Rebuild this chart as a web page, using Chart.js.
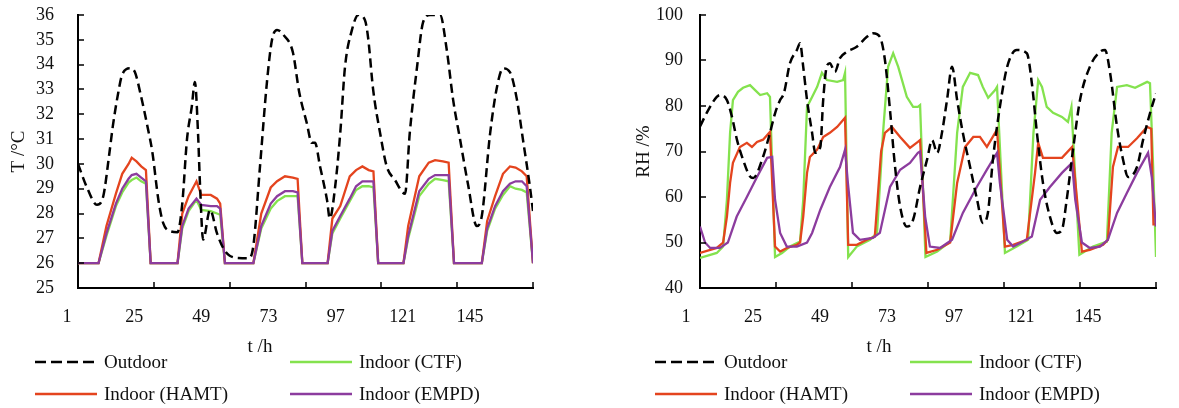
<!DOCTYPE html>
<html>
<head>
<meta charset="utf-8">
<script src="https://cdn.jsdelivr.net/npm/chart.js@4.4.1/dist/chart.umd.min.js"></script>
<style>
  body { margin: 0; background: #fff; }
  #wrap { position: relative; width: 1179px; height: 408px; font-family: 'Liberation Serif', 'Times New Roman', serif; color: #111; }
  canvas { position: absolute; top: 0; }
  .lab { position: absolute; font-size: 19px; white-space: nowrap; line-height: 20px; }
</style>
</head>
<body>
<div id="wrap">
  <canvas id="tChart" width="590" height="340" style="left:0"></canvas>
  <canvas id="rhChart" width="589" height="340" style="left:590px"></canvas>
</div>
<script>
// hour ticks shared by both panels
const xTicks = [1, 25, 49, 73, 97, 121, 145];

// --- temperature panel ---
const tOutHours = [1, 4, 7, 9, 11, 12, 13.5, 15, 17.5, 19, 21, 23, 24.5, 26.5, 28, 30, 32.5, 34, 35.5, 37, 38, 39, 39.6, 40.6, 42.8, 45, 47, 49, 53, 55, 56.5, 58.6, 60.8, 62.4, 64, 66, 69, 71, 73.4, 75, 76, 77.6, 79.8, 80.7, 82.4, 84, 85.5, 87.7, 89.7, 91.8, 92.8, 94.4, 96.6, 98.7, 101.3, 104.5, 106, 108.3, 110.2, 112.4, 115.6, 117.7, 119.7, 121.9, 124.4, 127.2, 128.8, 131.4, 133.6, 135.5, 137.7, 139.9, 141.8, 144, 145];
const tOutdoor = [30.0, 29.0, 28.35, 28.7, 30.5, 31.5, 32.7, 33.6, 33.85, 33.7, 32.7, 31.5, 30.5, 28.5, 27.6, 27.3, 27.25, 28.4, 31.0, 32.3, 33.3, 31.2, 29.2, 26.95, 28.15, 27.2, 26.6, 26.3, 26.2, 26.2, 26.7, 29.9, 33.3, 35.0, 35.4, 35.2, 34.5, 32.9, 31.65, 30.85, 30.85, 29.9, 28.55, 27.8, 29.1, 31.25, 33.9, 35.4, 36.0, 35.8, 35.1, 33.0, 31.25, 29.9, 29.35, 28.8, 31.25, 33.9, 35.7, 36.0, 36.0, 34.6, 32.6, 31.0, 29.2, 27.5, 27.9, 31.2, 33.1, 33.85, 33.7, 32.6, 31.0, 29.1, 28.1];

const tInHours = [1, 7.5, 10, 13, 15, 17, 18, 19.5, 21, 22.5, 24, 32.5, 34, 36, 38.5, 40, 43, 45, 46, 47.5, 56.5, 59, 62, 64, 66.5, 69, 70.5, 72, 80, 81.5, 84, 87, 89, 91, 93, 94.5, 96, 104, 105.5, 109, 112, 114, 116.5, 118.3, 120, 128.8, 130.5, 133, 135.5, 137.7, 139.5, 141.5, 143, 145];
const tHAMT = [26, 26, 27.5, 28.8, 29.6, 30.0, 30.25, 30.1, 29.9, 29.75,
  26, 26, 28.0, 28.7, 29.3, 28.75, 28.75, 28.6, 28.4, 26,
  26, 28.0, 29.05, 29.3, 29.5, 29.45, 29.4, 26, 26, 27.8,
  28.3, 29.5, 29.75, 29.9, 29.75, 29.7, 26, 26, 27.5, 29.5,
  30.05, 30.15, 30.1, 30.05, 26, 26, 27.7, 28.7, 29.6, 29.9,
  29.85, 29.7, 29.5, 26];
const tEMPD = [26, 26, 27.2, 28.4, 29.0, 29.4, 29.55, 29.6, 29.45, 29.3,
  26, 26, 27.5, 28.2, 28.6, 28.35, 28.3, 28.3, 28.2, 26,
  26, 27.5, 28.4, 28.7, 28.9, 28.9, 28.85, 26, 26, 27.3,
  27.9, 28.6, 29.1, 29.3, 29.3, 29.3, 26, 26, 27.1, 28.9,
  29.4, 29.55, 29.55, 29.55, 26, 26, 27.4, 28.3, 28.9, 29.2,
  29.3, 29.3, 29.1, 26];
const tCTF = [26, 26, 27.1, 28.3, 28.85, 29.25, 29.35, 29.45, 29.3, 29.2,
  26, 26, 27.4, 28.1, 28.55, 28.15, 28.1, 28.0, 27.95, 26,
  26, 27.4, 28.2, 28.5, 28.7, 28.7, 28.7, 26, 26, 27.2,
  27.8, 28.5, 28.95, 29.1, 29.1, 29.05, 26, 26, 27.0, 28.7,
  29.2, 29.4, 29.35, 29.3, 26, 26, 27.3, 28.2, 28.75, 29.1,
  29.0, 28.95, 28.85, 26];

// --- relative humidity panel ---
const rhOutHours = [1, 3.6, 6.3, 7.3, 9.5, 11.1, 12.7, 14.6, 16.8, 17.8, 20.9, 23.1, 24.7, 26.3, 27.5, 29.4, 31.6, 32.6, 33.6, 34.8, 36.4, 37.4, 39, 39.9, 41, 42, 43.6, 45.2, 47.4, 50.5, 53.7, 55.6, 57.8, 59.4, 61, 62.6, 64.2, 66.3, 68.3, 70.5, 72.7, 74.3, 75.9, 77.4, 79, 80.6, 82.2, 84, 86.3, 88.5, 90.3, 91.9, 93.5, 95.7, 98, 101, 104.2, 105.8, 107.4, 109.3, 111.5, 113.7, 115.3, 116.8, 118.8, 121, 124.1, 127.3, 128.9, 130.5, 132.7, 134.6, 136.2, 139, 140.9, 143.1, 145];
const rhOutdoor = [75.5, 79.1, 82, 82.4, 81.3, 77.6, 72.5, 68.2, 64.5, 64.2, 68.8, 74.1, 78.4, 81.3, 82.8, 89.4, 92.3, 93.8, 88.6, 81.3, 74.1, 69.7, 71, 81.3, 88.6, 89.4, 87.5, 90.5, 91.9, 93.0, 95.2, 96, 95.2, 90.1, 79.1, 66.6, 57.9, 53.5, 55, 62.2, 68.2, 72.5, 69.7, 74.1, 81.3, 88.6, 81.3, 74.1, 66.6, 59.4, 54.3, 56.5, 68.2, 79.8, 88.6, 92.3, 91.6, 85, 74.1, 63.1, 55.7, 52.1, 52.8, 59.4, 70.4, 81.3, 88.6, 91.9, 92.3, 87.3, 75.4, 68.2, 64.4, 66.6, 72.5, 78.4, 82.8];

const rhCTFHours = [1, 6.3, 8.3, 9.5, 10.5, 11.4, 13, 14.6, 16.8, 18.4, 20, 22.2, 23.1, 24.7, 26.9, 29.4, 32.6, 33.6, 34.8, 36.4, 38, 39.5, 41.1, 44.3, 46.2, 46.8, 47.8, 50.5, 54.7, 56.9, 58.8, 60.4, 62, 63.6, 66.3, 68.3, 69.8, 70.5, 72.2, 75.9, 80, 82.2, 84, 86.3, 88.8, 90.3, 92, 94.2, 94.8, 97.3, 101, 104.6, 106.3, 107.8, 109, 110.5, 112.5, 115.3, 117.2, 118.3, 120.8, 125.1, 129.5, 131, 132.7, 135.8, 138.4, 142.2, 143.1, 144.1, 145];
const rhCTF = [46.6, 47.7, 49.1, 59.4, 74.1, 81.3, 83.1, 84, 84.6, 83.5, 82.4, 82.8, 82, 46.8, 47.7, 49.1, 50.2, 59.4, 79.8, 82, 84.2, 87.3, 85.7, 85.3, 85.7, 87.3, 46.8, 49.1, 50.6, 52.1, 74.1, 88.6, 91.6, 88.6, 82, 79.8, 79.8, 80.2, 46.8, 48, 50.2, 74.1, 84.2, 87.3, 86.8, 84.2, 81.8, 83.5, 84.2, 47.7, 49.1, 50.6, 74.1, 85.7, 84.2, 79.8, 78.5, 77.6, 76.5, 79.8, 47.3, 49.1, 50.2, 74.1, 84.2, 84.6, 84, 85.3, 85, 66.6, 46.8];

const rhHAMTHours = [1, 6.3, 8.3, 9.5, 10.5, 11.4, 13.6, 15.8, 17.4, 19, 20.9, 23.1, 24.7, 26.3, 28.4, 31.6, 32.6, 33.6, 34.8, 35.7, 38, 39.9, 42, 44.3, 46.8, 47.8, 50.5, 53.7, 56.2, 58.2, 59.4, 61.6, 64.2, 67.3, 69.8, 70.5, 72.5, 75.9, 80, 82.2, 84.7, 87.3, 89.4, 91.6, 94.8, 97.3, 99.9, 104.2, 106.8, 107.8, 109.3, 115.3, 118.5, 121.6, 124.1, 128.3, 129.8, 131.4, 133, 136.2, 139, 142.2, 143.5, 144.2, 145];
const rhHAMT = [47.7, 48.8, 50, 55.7, 63.1, 67.5, 71, 71.9, 71, 72.1, 72.6, 74.3, 49.1, 48, 48.8, 49.5, 50, 55.7, 65.3, 68.8, 70.4, 73.2, 74.1, 75.4, 77.4, 49.5, 49.5, 50.6, 51.3, 70, 74.1, 75.4, 73.2, 70.8, 72.1, 72.5, 47.7, 48.4, 50, 63.1, 71, 73.2, 73.2, 71, 74.8, 49.1, 49.5, 50.6, 65.3, 71.9, 68.6, 68.6, 71, 48, 48.4, 49.5, 50.6, 66.6, 71, 71, 72.9, 75.4, 75, 54, 54];

const rhEMPDHours = [1, 2.6, 4.2, 7.3, 9.8, 12.6, 15.8, 19, 22.2, 23.8, 24.7, 26.3, 28.4, 31.6, 34.8, 36.4, 39, 42, 45.2, 46.8, 47.7, 49.3, 51.5, 55.6, 57.8, 61, 64.2, 67.3, 69.8, 70.5, 72.1, 73.6, 76.8, 80.6, 84, 88.4, 91.6, 94.8, 95.7, 98, 99.9, 103, 105.8, 108.4, 111.5, 115.3, 118.5, 119.5, 121.6, 124.1, 127.3, 129.8, 132.7, 135.8, 139, 142.5, 143.7, 145];
const rhEMPD = [53.5, 50, 48.8, 48.8, 50, 55.7, 60, 64.4, 68.6, 68.8, 59.4, 52.1, 49.1, 49.1, 50, 52.1, 57.2, 62.2, 66.6, 70.4, 63.1, 52.1, 50.6, 51, 52.1, 62.2, 66, 67.5, 69.7, 70, 55.7, 49.1, 48.8, 50.6, 56.5, 62.2, 66, 69.7, 63.1, 50.6, 49.1, 50.2, 51.3, 59.4, 62.2, 65.3, 67.5, 59.4, 50, 48.8, 49.1, 50.6, 56.5, 60.9, 65.3, 69.7, 64.2, 53.5];

const seriesNames = ['Outdoor', 'Indoor (CTF)', 'Indoor (HAMT)', 'Indoor (EMPD)'];
const seriesColors = ['#000000', '#84e24e', '#e4441e', '#8c3c9e'];

const FONT = "'Liberation Serif', 'Times New Roman', serif";

function pairs(hours, vals) {
  return hours.map((h, i) => ({ x: h, y: vals[i] }));
}

function datasets(out, ctf, hamt, empd) {
  return [
    { label: seriesNames[0], data: out, borderColor: seriesColors[0], borderWidth: 2.5,
      borderDash: [9, 5], cubicInterpolationMode: 'monotone', order: 0 },
    { label: seriesNames[1], data: ctf, borderColor: seriesColors[1], borderWidth: 2.3, order: 3 },
    { label: seriesNames[2], data: hamt, borderColor: seriesColors[2], borderWidth: 2.3, order: 2 },
    { label: seriesNames[3], data: empd, borderColor: seriesColors[3], borderWidth: 2.3, order: 1 }
  ].map(d => Object.assign({ pointRadius: 0, fill: false, tension: 0 }, d));
}

// small inward tick marks like the original axes
const innerTicks = {
  id: 'innerTicks',
  afterDraw(chart) {
    const { ctx, chartArea: a, scales: { x, y } } = chart;
    ctx.save();
    ctx.strokeStyle = '#000';
    ctx.lineWidth = 1.5;
    ctx.beginPath();
    xTicks.forEach(v => {
      const px = Math.round(x.getPixelForValue(v));
      ctx.moveTo(px, a.bottom);
      ctx.lineTo(px, a.bottom - 6);
    });
    y.ticks.forEach(t => {
      const py = Math.round(y.getPixelForValue(t.value));
      ctx.moveTo(a.left, py);
      ctx.lineTo(a.left + 6, py);
    });
    ctx.stroke();
    ctx.restore();
  }
};

function makeChart(id, ds, p) {
  return new Chart(document.getElementById(id), {
    type: 'line',
    data: { datasets: ds },
    options: {
      responsive: false,
      animation: false,
      events: [],
      layout: { padding: { top: 15, right: p.padRight, bottom: 0, left: 0 } },
      plugins: { legend: { display: false }, tooltip: { enabled: false } },
      scales: {
        x: { type: 'linear', min: 1, max: 145, display: false },
        // tick labels of the original sit slightly off the tick marks
        xl: {
          type: 'linear', axis: 'x', position: 'bottom',
          min: p.labelMin, max: p.labelMax,
          grid: { display: false, drawTicks: false },
          border: { color: '#000', width: 2 },
          ticks: { autoSkip: false, maxRotation: 0, padding: 18, color: '#111',
                   font: { family: FONT, size: 18 } },
          afterBuildTicks: s => { s.ticks = xTicks.map(v => ({ value: v })); },
          afterFit: s => { s.height = 52; }
        },
        y: {
          min: p.yMin, max: p.yMax,
          grid: { display: false, drawTicks: false },
          border: { color: '#000', width: 2 },
          ticks: { stepSize: p.yStep, autoSkip: false, padding: p.tickPad, color: '#111',
                   font: { family: FONT, size: 18 } },
          title: { display: true, text: p.yTitle, color: '#111',
                   font: { family: FONT, size: 19 }, padding: { top: p.titlePad, bottom: 0 } },
          afterFit: s => { s.width = p.yWidth; s.paddingTop = 8; s.paddingBottom = 8; }
        }
      }
    },
    plugins: [innerTicks]
  });
}

makeChart('tChart',
  datasets(pairs(tOutHours, tOutdoor), pairs(tInHours, tCTF), pairs(tInHours, tHAMT), pairs(tInHours, tEMPD)),
  { yMin: 25, yMax: 36, yStep: 1, yTitle: 'T /\u00b0C', yWidth: 78, titlePad: 8, tickPad: 24,
    padRight: 57, labelMin: 4.93, labelMax: 167.5 });

makeChart('rhChart',
  datasets(pairs(rhOutHours, rhOutdoor), pairs(rhCTFHours, rhCTF), pairs(rhHAMTHours, rhHAMT), pairs(rhEMPDHours, rhEMPD)),
  { yMin: 40, yMax: 100, yStep: 10, yTitle: 'RH /%', yWidth: 110, titlePad: 43, tickPad: 17,
    padRight: 23, labelMin: 6.0, labelMax: 169.4 });

// axis titles and legends below each panel
const wrap = document.getElementById('wrap');
function addText(txt, left, top, center) {
  const d = document.createElement('div');
  d.className = 'lab';
  d.textContent = txt;
  d.style.left = left + 'px';
  d.style.top = top + 'px';
  if (center) d.style.transform = 'translateX(-50%)';
  wrap.appendChild(d);
}
function addKey(i, left, cy) {
  const ns = 'http://www.w3.org/2000/svg';
  const svg = document.createElementNS(ns, 'svg');
  svg.setAttribute('width', 62);
  svg.setAttribute('height', 6);
  svg.style.position = 'absolute';
  svg.style.left = left + 'px';
  svg.style.top = (cy - 3) + 'px';
  const ln = document.createElementNS(ns, 'line');
  ln.setAttribute('x1', 0); ln.setAttribute('x2', 62);
  ln.setAttribute('y1', 3); ln.setAttribute('y2', 3);
  ln.setAttribute('stroke', seriesColors[i]);
  ln.setAttribute('stroke-width', 2.5);
  if (i === 0) ln.setAttribute('stroke-dasharray', '11 5');
  svg.appendChild(ln);
  wrap.appendChild(svg);
  addText(seriesNames[i], left + 69, cy - 10, false);
}

addText('t /h', 260, 336, true);
addText('t /h', 879, 336, true);

const keyCols = [[35, 290], [655, 910]];
const keyRows = [362, 394];
keyCols.forEach(cols => {
  addKey(0, cols[0], keyRows[0]);
  addKey(1, cols[1], keyRows[0]);
  addKey(2, cols[0], keyRows[1]);
  addKey(3, cols[1], keyRows[1]);
});
</script>
</body>
</html>
